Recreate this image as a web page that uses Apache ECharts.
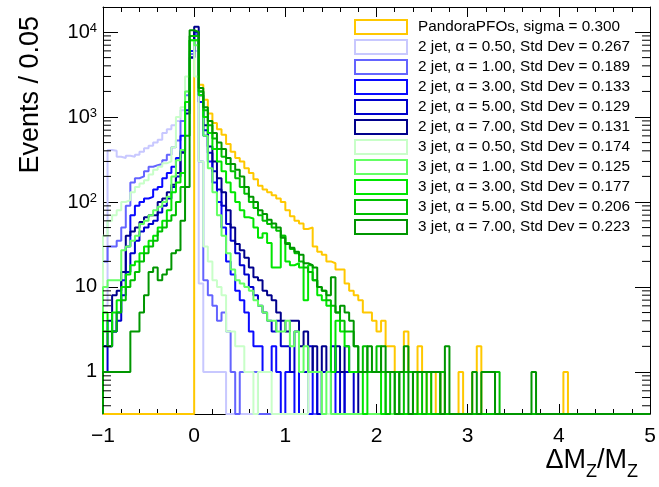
<!DOCTYPE html>
<html><head><meta charset="utf-8">
<script src="https://cdn.jsdelivr.net/npm/echarts@6/dist/echarts.min.js"></script>
<style>html,body{margin:0;padding:0;background:#fff}#c{width:659px;height:487px}</style>
</head><body><div id="c"></div>
<script>
// ---- binning ----
const binLow = -1, binWidth = 0.05;
// ---- axis ticks ----
const xTickValues = [-1, 0, 1, 2, 3, 4, 5];
const xTickLabels = ['\u22121', '0', '1', '2', '3', '4', '5'];
const yTickValues = [1, 10, 100, 1000, 10000];
const yTickLabels = ['1', '10', '10{sup|2}', '10{sup|3}', '10{sup|4}'];
const yMin = 0.32, yMax = 19700;

// ---- series ----
const seriesNames = [
  'PandoraPFOs, sigma = 0.300',
  '2 jet, \u03b1 = 0.50, Std Dev = 0.267',
  '2 jet, \u03b1 = 1.00, Std Dev = 0.189',
  '2 jet, \u03b1 = 3.00, Std Dev = 0.133',
  '2 jet, \u03b1 = 5.00, Std Dev = 0.129',
  '2 jet, \u03b1 = 7.00, Std Dev = 0.131',
  '3 jet, \u03b1 = 0.50, Std Dev = 0.174',
  '3 jet, \u03b1 = 1.00, Std Dev = 0.125',
  '3 jet, \u03b1 = 3.00, Std Dev = 0.177',
  '3 jet, \u03b1 = 5.00, Std Dev = 0.206',
  '3 jet, \u03b1 = 7.00, Std Dev = 0.223'
];
const seriesColors = ['#ffc800', '#c8c8ff', '#6464ff', '#0a0aff', '#0000cc', '#00008c',
  '#c8ffc8', '#64ff64', '#00e600', '#00c000', '#009600'];

const pandora = [
  0,0,0,0,0,0,0,0,0,0,0,0,0,0,0,0,0,0,0,0,
  8000,2400,1600,1100,850,720,620,480,390,330,300,250,220,185,155,140,130,120,110,100,
  80,68,60,56,48,50,30,26,24,20,19,16,16,11,9,8,7,5,5,4,
  3,4,2,2,1,1,3,1,0,2,1,0,1,0,1,0,0,0,1,0,
  0,1,2,0,0,0,0,0,0,0,0,0,0,0,0,0,0,0,0,0,
  0,1,0,0,0,0,0,0,0,0,0,0,0,0,0,0,0,0,0,0];
const jet2a050 = [
  6,410,400,340,330,350,340,360,390,430,460,500,540,650,720,800,900,1200,2000,5000,
  6000,11,1,1,1,1,1,0,0,0,0,0,0,0,0,0,0,0,0,0,
  0,0,0,0,0,0,0,0,0,0,0,0,0,0,0,0,0,0,0,0,
  0,0,0,0,0,0,0,0,0,0,0,0,0,0,0,0,0,0,0,0,
  0,0,0,0,0,0,0,0,0,0,0,0,0,0,0,0,0,0,0,0,
  0,0,0,0,0,0,0,0,0,0,0,0,0,0,0,0,0,0,0,0];
const jet2a100 = [
  20,30,30,35,50,90,170,190,200,230,260,270,280,310,360,440,530,900,1800,5500,
  9500,300,12,8,6,4,5,3,1,0,1,1,1,1,0,0,0,0,0,0,
  0,0,0,0,0,0,0,0,0,0,0,0,0,0,0,0,0,0,0,0,
  0,0,0,0,0,0,0,0,0,0,0,0,0,0,0,0,0,0,0,0,
  0,0,0,0,0,0,0,0,0,0,0,0,0,0,0,0,0,0,0,0,
  0,0,0,0,0,0,0,0,0,0,0,0,0,0,0,0,0,0,0,0];
const jet2a300 = [
  2,4,3,5,12,30,70,90,100,110,115,140,150,190,220,260,330,600,1500,6000,
  10000,1500,600,300,170,100,50,20,14,9,7,5,3,2,2,1,1,2,1,0,
  1,1,0,1,1,0,1,0,1,1,0,1,1,0,0,0,0,0,0,0,
  0,0,0,0,0,0,0,0,0,0,0,0,0,0,0,0,0,0,0,0,
  0,0,0,0,0,0,0,0,0,0,0,0,0,0,0,0,0,0,0,0,
  0,0,0,0,0,0,0,0,0,0,0,0,0,0,0,0,0,0,0,0];
const jet2a500 = [
  1,2,3,4,8,15,25,35,45,50,55,60,75,90,110,150,200,400,1200,5000,
  10000,1800,700,380,230,140,90,55,35,25,18,14,10,8,6,5,4,3,4,2,
  2,1,3,1,1,2,1,0,1,1,2,1,0,1,1,0,0,0,0,0,
  0,0,0,0,0,0,0,0,0,0,0,0,0,0,0,0,0,0,0,0,
  0,0,0,0,0,0,0,0,0,0,0,0,0,0,0,0,0,0,0,0,
  0,0,0,0,0,0,0,0,0,0,0,0,0,0,0,0,0,0,0,0];
const jet2a700 = [
  2,2,8,9,15,40,45,50,58,66,70,70,100,110,130,160,220,380,1100,5000,
  11500,2000,800,450,300,190,130,80,50,32,27,22,17,13,12,9,8,7,5,4,
  3,4,4,2,3,1,2,1,2,1,1,2,1,2,1,1,0,0,0,0,
  0,0,0,0,0,0,0,0,0,0,0,0,0,0,0,0,0,0,0,0,
  0,0,0,0,0,0,0,0,0,0,0,0,0,0,0,0,0,0,0,0,
  0,0,0,0,0,0,0,0,0,0,0,0,0,0,0,0,0,0,0,0];
const jet3a050 = [
  40,60,70,80,100,105,130,150,165,180,210,240,260,285,300,440,1000,1300,3000,8000,
  3000,300,30,20,12,10,8,3,3,2,2,1,1,0,1,1,1,0,0,0,
  0,0,0,0,0,1,1,1,0,0,0,0,0,0,0,0,0,0,0,0,
  0,0,0,0,0,0,0,0,0,0,0,0,0,0,0,0,0,0,0,0,
  0,0,0,0,0,0,0,0,0,0,0,0,0,0,0,0,0,0,0,0,
  0,0,0,0,0,0,0,0,0,0,0,0,0,0,0,0,0,0,0,0];
const jet3a100 = [
  10,12,12,12,27,30,35,40,55,60,70,80,88,100,115,200,310,410,2000,8000,
  7000,2000,600,250,130,70,40,25,16,12,11,10,9,7,6,5,4,4,3,3,
  4,2,3,1,2,1,1,1,0,1,0,0,0,0,0,0,0,0,0,0,
  0,0,0,0,0,0,0,0,0,0,0,0,0,0,0,0,0,0,0,0,
  0,0,0,0,0,0,0,0,0,0,0,0,0,0,0,0,0,0,0,0,
  0,0,0,0,0,0,0,0,0,0,0,0,0,0,0,0,0,0,0,0];
const jet3a300 = [
  5,3,5,7,10,14,18,20,25,30,35,40,50,60,80,130,170,220,1500,8000,
  8000,1800,1000,650,420,300,230,170,130,100,80,66,64,50,38,43,33,17,17,40,
  20,18,19,17,7,18,12,8,7,6,1,4,3,2,1,1,1,0,1,1,
  1,0,1,1,0,0,0,0,0,0,0,0,0,0,0,0,0,0,0,0,
  0,0,0,0,0,0,0,0,0,0,0,0,0,0,0,0,0,0,0,0,
  0,0,0,0,0,0,0,0,0,0,0,0,0,0,0,0,0,0,0,0];
const jet3a500 = [
  3,2,3,5,7,10,12,15,20,25,30,35,45,50,60,70,100,150,600,9000,
  9000,2000,1200,800,560,420,340,280,230,190,150,125,100,85,70,60,55,50,46,40,
  33,28,25,20,17,15,12,10,9,7,6,5,4,3,3,2,1,2,1,1,
  2,1,0,1,1,0,1,1,0,1,0,1,0,0,1,0,0,0,0,0,
  0,0,0,0,0,0,1,0,0,0,0,0,0,0,0,0,0,0,0,0,
  0,0,0,0,0,0,0,0,0,0,0,0,0,0,0,0,0,0,0,0];
const jet3a700 = [
  1,1,1,1,1,1,3,3,5,8,15,17,12,14,16,25,27,60,150,10500,
  10000,2200,1300,900,650,500,420,330,280,240,200,150,115,100,80,72,62,56,50,38,
  32,29,26,24,19,18,17,10,9,8,13,5,6,5,4,2,1,1,2,1,
  1,2,1,1,0,1,2,0,1,1,1,1,1,1,0,2,0,0,0,0,
  0,1,0,1,1,1,0,0,0,0,0,0,0,0,1,0,0,0,0,0,
  0,0,0,0,0,0,0,0,0,0,0,0,0,0,0,0,0,0,0,0];
const allCounts = [pandora, jet2a050, jet2a100, jet2a300, jet2a500, jet2a700,
  jet3a050, jet3a100, jet3a300, jet3a500, jet3a700];

const FONT = '"Liberation Sans", Arial, Helvetica, sans-serif';

function histData(counts) {
  const pts = [[binLow, yMin]];
  counts.forEach((c, i) => pts.push([binLow + i * binWidth, c > 0 ? c : yMin]));
  const last = counts[counts.length - 1];
  const xEnd = binLow + counts.length * binWidth;
  pts.push([xEnd, last > 0 ? last : yMin]);
  pts.push([xEnd, yMin]);
  return pts;
}

// minor tick positions on the log axis (2..9 per decade)
const minorY = [];
for (let k = -1; k <= 4; k++) for (let m = 2; m <= 9; m++) {
  const v = m * Math.pow(10, k);
  if (v > yMin && v < yMax) minorY.push([binLow, v]);
}

const series = allCounts.map((counts, i) => ({
  name: seriesNames[i], type: 'line', step: 'end', data: histData(counts),
  showSymbol: false, symbol: 'none', clip: true, animation: false,
  lineStyle: { color: seriesColors[i], width: 2 },
  itemStyle: { color: 'rgba(0,0,0,0)', borderColor: seriesColors[i], borderWidth: 2 },
  emphasis: { disabled: true }
}));
series.push({
  type: 'custom', silent: true, z: 10, animation: false, clip: false,
  data: minorY, encode: { x: 0, y: 1 },
  renderItem: function (params, api) {
    const p = api.coord([-1, api.value(1)]);
    const q = api.coord([5, api.value(1)]);
    return { type: 'group', children: [
      { type: 'line', shape: { x1: p[0], y1: p[1], x2: p[0] + 8, y2: p[1] }, style: { stroke: '#000', lineWidth: 1 } },
      { type: 'line', shape: { x1: q[0] - 8, y1: q[1], x2: q[0], y2: q[1] }, style: { stroke: '#000', lineWidth: 1 } }
    ] };
  }
});

const xBase = {
  type: 'value', min: -1, max: 5, interval: 1,
  axisLine: { show: true, onZero: false, lineStyle: { color: '#000', width: 1 } },
  axisTick: { show: true, inside: true, length: 10, lineStyle: { color: '#000' } },
  minorTick: { show: true, splitNumber: 5, length: 5, lineStyle: { color: '#000' } },
  splitLine: { show: false }, minorSplitLine: { show: false }
};
const yBase = {
  type: 'log', logBase: 10, min: yMin, max: yMax,
  axisLine: { show: true, onZero: false, lineStyle: { color: '#000', width: 1 } },
  axisTick: { show: true, inside: true, length: 15, lineStyle: { color: '#000' } },
  splitLine: { show: false }
};

const chart = echarts.init(document.getElementById('c'), null, { renderer: 'canvas' });
chart.setOption({
  animation: false,
  grid: { left: 103, right: 9, top: 7, bottom: 73, containLabel: false },
  xAxis: [
    Object.assign({}, xBase, { position: 'bottom',
      axisLabel: { show: true, margin: 12, fontSize: 21, fontFamily: FONT, color: '#000',
        formatter: v => { const j = xTickValues.indexOf(Math.round(v)); return j >= 0 ? xTickLabels[j] : ''; } } }),
    Object.assign({}, xBase, { position: 'top', axisLabel: { show: false } })
  ],
  yAxis: [
    Object.assign({}, yBase, { position: 'left',
      axisLabel: { show: true, margin: 6, fontSize: 20, fontFamily: FONT, color: '#000',
        showMinLabel: true, showMaxLabel: true,
        formatter: v => {
          const j = yTickValues.findIndex(t => Math.abs(Math.log10(v) - Math.log10(t)) < 1e-6);
          return j >= 0 ? yTickLabels[j] : '';
        },
        rich: { sup: { fontSize: 13, fontFamily: FONT, color: '#000', verticalAlign: 'top', lineHeight: 6 } } } }),
    Object.assign({}, yBase, { position: 'right', axisLabel: { show: false } })
  ],
  legend: {
    orient: 'vertical', left: 354, top: 19, padding: 0, itemWidth: 52, itemHeight: 14, itemGap: 4,
    icon: 'rect', selectedMode: false,
    textStyle: { fontSize: 15.3, lineHeight: 14, fontFamily: FONT, color: '#000', padding: [0, 0, 0, 6] },
    data: seriesNames.map((n, i) => ({ name: n, icon: 'rect',
      itemStyle: { color: 'rgba(0,0,0,0)', borderColor: seriesColors[i], borderWidth: 2 } }))
  },
  graphic: [
    { type: 'text', x: 31, y: 16, rotation: Math.PI / 2,
      style: { text: 'Events / 0.05', font: '27px ' + FONT, fill: '#000', textAlign: 'right', textVerticalAlign: 'middle' } },
    { type: 'text', x: 638, y: 464,
      style: { text: '{m|\u0394M}{s|Z}{m|/M}{s|Z}', fill: '#000', textAlign: 'right', textVerticalAlign: 'middle',
        rich: { m: { fontSize: 27, fontFamily: FONT, lineHeight: 27, verticalAlign: 'top' },
                s: { fontSize: 18, fontFamily: FONT, lineHeight: 34, verticalAlign: 'bottom' } } } }
  ],
  series: series
});
</script></body></html>
